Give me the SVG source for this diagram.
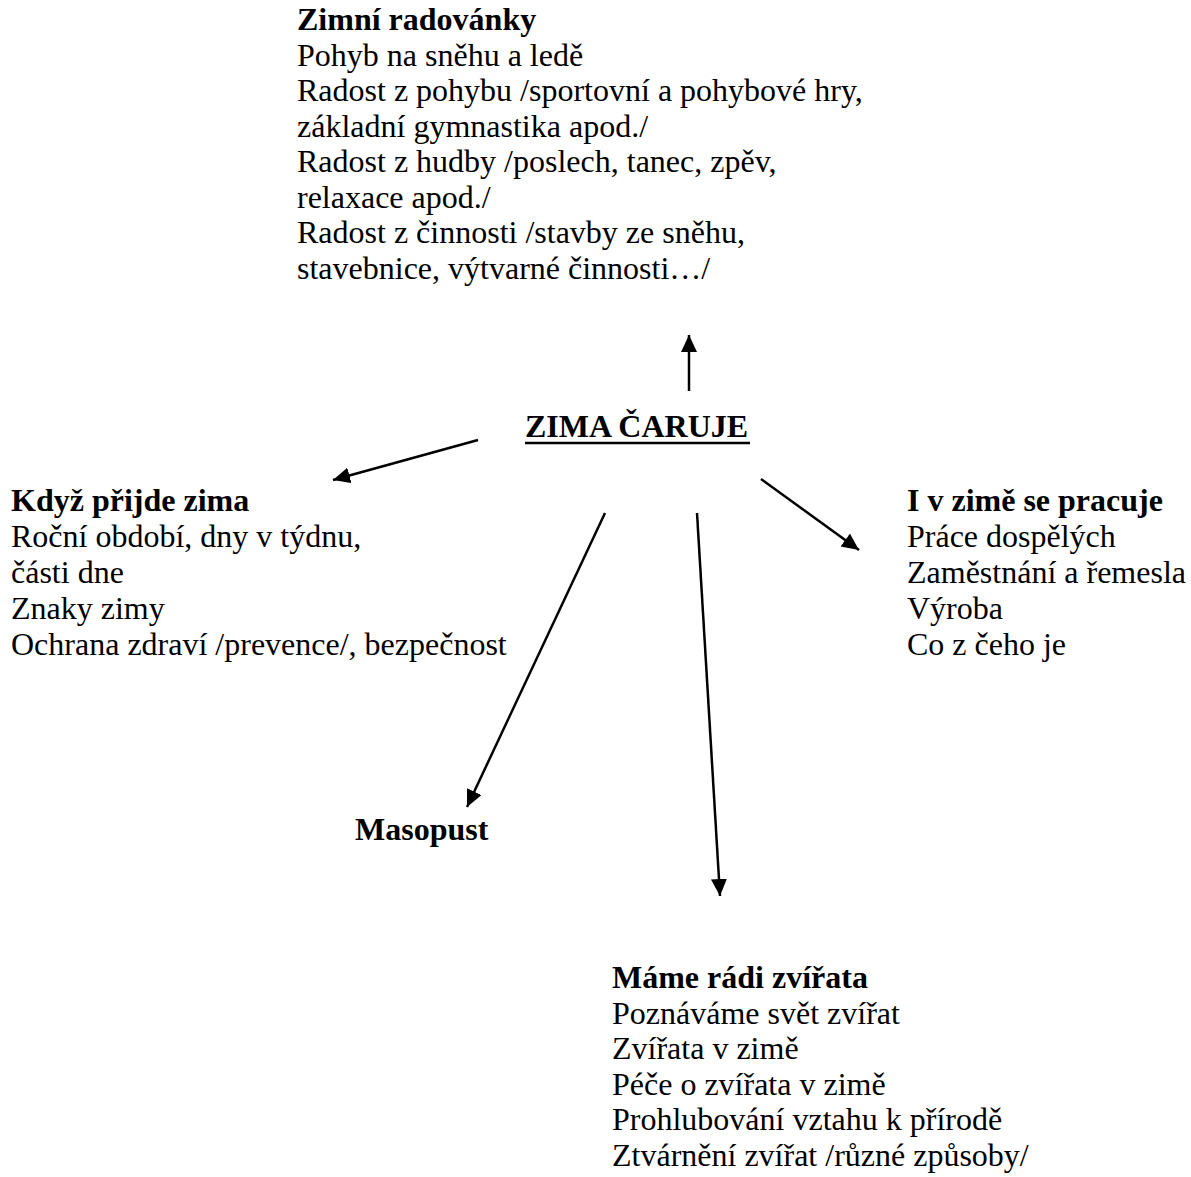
<svg xmlns="http://www.w3.org/2000/svg" width="1191" height="1177" viewBox="0 0 1191 1177">
<style>
text{font-family:"Liberation Serif","Times New Roman",serif;font-size:32px;fill:#000}
.b{font-weight:bold}
.conn line{stroke:#000;stroke-width:2.5;marker-end:url(#ah)}
</style>
<defs>
<marker id="ah" markerUnits="userSpaceOnUse" markerWidth="20" markerHeight="18" refX="17" refY="8" orient="auto">
<path d="M0,0 L17,8 L0,16 Z" fill="#000"/>
</marker>
</defs>
<rect width="1191" height="1177" fill="#fff"/>
<g class="conn" id="connectors">
<line x1="689" y1="391" x2="689" y2="335"/>
<line x1="478" y1="440" x2="333" y2="480"/>
<line x1="761" y1="479" x2="859" y2="550"/>
<line x1="605" y1="513" x2="467" y2="807"/>
<line x1="697" y1="513" x2="720" y2="896"/>
</g>
<g id="center">
<text class="b" x="525" y="437">ZIMA ČARUJE</text>
<line x1="525" y1="443" x2="750" y2="443" stroke="#000" stroke-width="2.5"/>
</g>
<g id="zimni-radovanky">
<text class="b" x="297" y="30">Zimní radovánky</text>
<text x="297" y="65.5">Pohyb na sněhu a ledě</text>
<text x="297" y="101">Radost z pohybu /sportovní a pohybové hry,</text>
<text x="297" y="136.5">základní gymnastika apod./</text>
<text x="297" y="172">Radost z hudby /poslech, tanec, zpěv,</text>
<text x="297" y="207.5">relaxace apod./</text>
<text x="297" y="243">Radost z činnosti /stavby ze sněhu,</text>
<text x="297" y="278.5">stavebnice, výtvarné činnosti…/</text>
</g>
<g id="kdyz-prijde-zima">
<text class="b" x="11" y="511">Když přijde zima</text>
<text x="11" y="547">Roční období, dny v týdnu,</text>
<text x="11" y="583">části dne</text>
<text x="11" y="619">Znaky zimy</text>
<text x="11" y="655">Ochrana zdraví /prevence/, bezpečnost</text>
</g>
<g id="v-zime-se-pracuje">
<text class="b" x="907" y="511">I v zimě se pracuje</text>
<text x="907" y="547">Práce dospělých</text>
<text x="907" y="583">Zaměstnání a řemesla</text>
<text x="907" y="619">Výroba</text>
<text x="907" y="655">Co z čeho je</text>
</g>
<g id="masopust">
<text class="b" x="355" y="840">Masopust</text>
</g>
<g id="mame-radi-zvirata">
<text class="b" x="612" y="988">Máme rádi zvířata</text>
<text x="612" y="1023.5">Poznáváme svět zvířat</text>
<text x="612" y="1059">Zvířata v zimě</text>
<text x="612" y="1094.5">Péče o zvířata v zimě</text>
<text x="612" y="1130">Prohlubování vztahu k přírodě</text>
<text x="612" y="1165.5">Ztvárnění zvířat /různé způsoby/</text>
</g>
</svg>
